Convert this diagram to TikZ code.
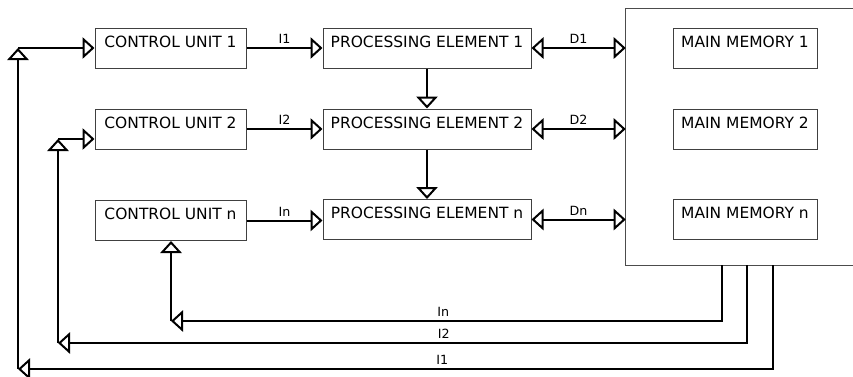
\documentclass[tikz,border=0pt]{standalone}
\usepackage{fontspec}
\setmainfont{DejaVu Sans}
\usetikzlibrary{arrows.meta}
\tikzset{hd/.tip={Triangle[open,length=9pt,width=16pt]}}
\begin{document}
\begin{tikzpicture}[x=0.75pt,y=-0.75pt,
  box/.style={draw=black!75, line width=0.75pt, minimum width=#1, minimum height=30pt,
    inner sep=0pt, text height=14.25pt, text depth=15.75pt,
    font=\fontsize{11.6}{13}\selectfont},
  wire/.style={line width=1.5pt, draw=black},
  tip/.style={wire, -{hd}},
  both/.style={wire, {hd}-{hd}},
  lbl/.style={font=\fontsize{9.5}{10}\selectfont, inner sep=2.6pt, above}]
\useasboundingbox (0,0) rectangle (853,376);

% control units
\node[box=113.25pt] (cu1) at (170.5,48) {CONTROL UNIT 1};
\node[box=113.25pt] (cu2) at (170.5,129) {CONTROL UNIT 2};
\node[box=113.25pt] (cun) at (170.5,220.5) {CONTROL UNIT n};

% processing elements
\node[box=156pt] (pe1) at (427,48) {PROCESSING ELEMENT 1};
\node[box=156pt] (pe2) at (427,129) {PROCESSING ELEMENT 2};
\node[box=156pt] (pen) at (427,219.5) {PROCESSING ELEMENT n};

% memory block
\node[minimum width=170.25pt, minimum height=192pt, inner sep=0pt] (mem) at (739.5,137) {};
\draw[draw=black!70, line width=1pt] (mem.north east) -- (mem.north west) -- (mem.south west) -- (mem.south east);
\node[box=108pt] (mm1) at (745,48) {MAIN MEMORY 1};
\node[box=108pt] (mm2) at (745,129) {MAIN MEMORY 2};
\node[box=108pt] (mmn) at (745,219) {MAIN MEMORY n};

% instruction paths
\draw[tip] (cu1.east) -- (cu1.east -| pe1.west) node[lbl, midway] (li1) {I1};
\draw[tip] (cu2.east) -- (cu2.east -| pe2.west) node[lbl, midway] (li2) {I2};
\draw[tip] (cun.east) -- (cun.east -| pen.west) node[lbl, midway] (lin) {In};

% data paths
\draw[both] (pe1.east) -- (pe1.east -| mem.west) node[lbl, midway] (ld1) {D1};
\draw[both] (pe2.east) -- (pe2.east -| mem.west) node[lbl, midway] (ld2) {D2};
\draw[both] (pen.east) -- (pen.east -| mem.west) node[lbl, midway] (ldn) {Dn};

% chain between processing elements
\draw[tip] (pe1.south) -- (pe2.north);
\draw[tip] (pe2.south) -- (pen.north);

% return paths from memory to control units
\coordinate (on) at (722,265);
\coordinate (o2) at (747,265);
\coordinate (o1) at (773,265);
\coordinate (kn) at (171,321);
\coordinate (k2) at (58,343);
\coordinate (k1) at (18,369);
\coordinate (u2) at (58,139);
\coordinate (u1) at (18,48);

\draw[tip] (on) |- (kn) node[lbl, pos=0.753] (rn) {In};
\draw[tip] (kn) -- (kn |- cun.south);

\draw[tip] (o2) |- (k2) node[lbl, pos=0.72] (r2) {I2};
\draw[tip] (k2) -- (u2);
\draw[tip] (u2) -- (u2 -| cu2.west);

\draw[tip] (o1) |- (k1) node[lbl, pos=0.719] (r1) {I1};
\draw[tip] (k1) -- (u1);
\draw[tip] (u1) -- (u1 -| cu1.west);
\end{tikzpicture}
\end{document}
